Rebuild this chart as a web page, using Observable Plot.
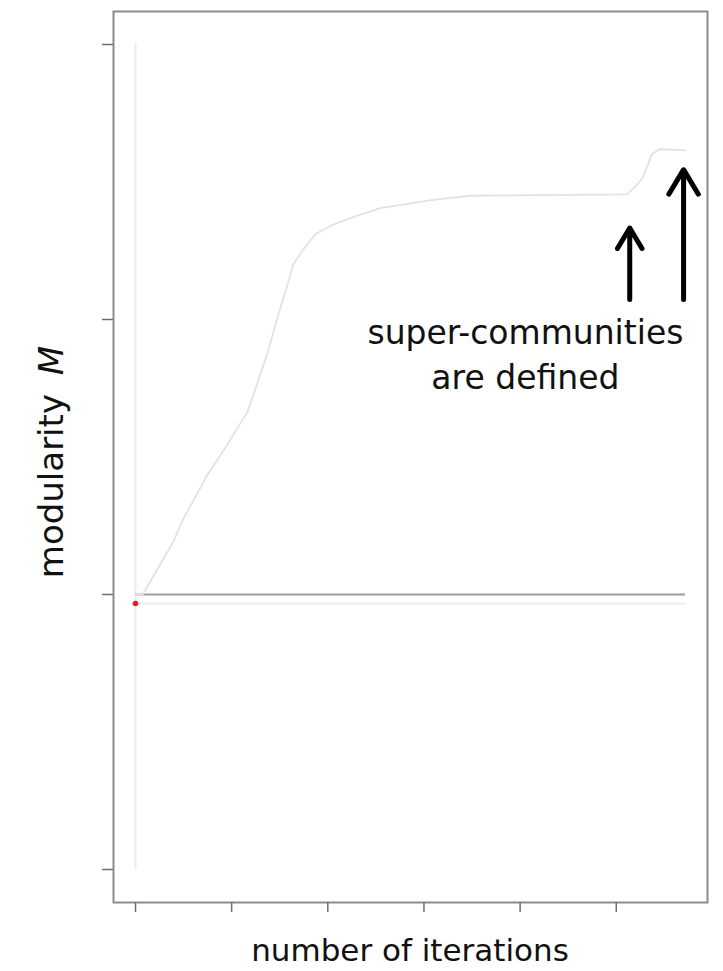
<!DOCTYPE html>
<html>
<head>
<meta charset="utf-8">
<script src="https://cdn.jsdelivr.net/npm/d3@7"></script>
<script src="https://cdn.jsdelivr.net/npm/@observablehq/plot@0.6"></script>
<style>
  body { margin: 0; background: #fff; }
  #chart svg { display: block; }
</style>
</head>
<body>
<div id="chart"></div>
<script>
// Modularity trace over the iterations of the algorithm
const iterations = [0, 1.5, 7.9, 10.0, 15.0, 19.1, 23.3, 24.5, 27.4, 29.5, 31.6, 32.8, 34.9, 37.4, 40.5, 44.0, 50.9, 61.9, 69.6, 102.2, 104.3, 105.5, 107.4, 109.0, 114.4];
const modularity = [0, 0.0, 0.0385, 0.0553, 0.0873, 0.109, 0.133, 0.145, 0.175, 0.201, 0.225, 0.240, 0.251, 0.262, 0.268, 0.273, 0.281, 0.287, 0.290, 0.291, 0.298, 0.303, 0.320, 0.324, 0.323];

// reference levels
const baselineM = 0;
const startM = -0.0065;
const yRangeM = [-0.2, 0.4];

// axis ticks (labels are not printed)
const xTicks = [0, 20, 40, 60, 80, 100];
const yTicks = [-0.2, 0, 0.2, 0.4];

// arrows marking where super-communities are defined
const arrowX = [102.8, 114.0];
const arrowTail = [0.2145, 0.2145];
const arrowTip = [0.2665, 0.3090];
const noteLines = ["super-communities", "are defined"];
const noteX = 81.1;
const noteY = [0.1825, 0.1498];

const xLabel = "number of iterations";
const yLabel = ["modularity", "M"];

const xExtent = [0, d3.max(iterations)];
const padded = (e) => { const p = (e[1] - e[0]) * 0.04; return [e[0] - p, e[1] + p]; };

const curve = iterations.map((x, i) => ({x, y: modularity[i]}));
const arrows = arrowX.map((x, i) => ({x, tail: arrowTail[i], tip: arrowTip[i]}));
const notes = noteLines.map((t, i) => ({t, x: noteX, y: noteY[i]}));

const FONT = "DejaVu Sans";
const W = 723, H = 971;
const mL = 113, mR = 16, mT = 11, mB = 69;

const svg = Plot.plot({
  width: W, height: H,
  marginLeft: mL, marginRight: mR, marginTop: mT, marginBottom: mB,
  style: {fontFamily: FONT, background: "#fff"},
  x: {domain: padded(xExtent)},
  y: {domain: padded(yRangeM)},
  marks: [
    Plot.ruleX([0], {y1: yRangeM[0], y2: yRangeM[1], stroke: "#f1eaec", strokeWidth: 2}),
    Plot.ruleY([startM], {x1: 0, x2: xExtent[1], stroke: "#ececec", strokeWidth: 2}),
    Plot.ruleY([baselineM], {x1: 0, x2: xExtent[1], stroke: "#9d9d9d", strokeWidth: 2}),
    Plot.line(curve, {x: "x", y: "y", stroke: "#e2e2e2", strokeWidth: 1.8}),
    Plot.dot([{x: 0, y: startM}], {x: "x", y: "y", r: 2.8, fill: "#e0202b", stroke: null}),
    Plot.arrow(arrows, {x1: "x", x2: "x", y1: "tail", y2: "tip", stroke: "#000", strokeWidth: 5, headLength: 8.6, headAngle: 62}),
    Plot.text(notes, {x: "x", y: "y", text: "t", fontSize: 33, fill: "#111", textAnchor: "middle", lineAnchor: "bottom"}),
    Plot.frame({stroke: "#8c8c8c", strokeWidth: 2}),
    Plot.axisY({ticks: yTicks, tickSize: 11, tickFormat: () => "", stroke: "#6f6f6f", strokeWidth: 1.5, label: null}),
    Plot.axisX({ticks: xTicks, tickSize: 10, tickFormat: () => "", stroke: "#6f6f6f", strokeWidth: 1.5, label: null})
  ]
});

const s = d3.select(svg);
s.append("text")
  .attr("x", (mL + W - mR) / 2).attr("y", 961)
  .attr("text-anchor", "middle")
  .attr("font-family", FONT).attr("font-size", 31).attr("fill", "#111")
  .text(xLabel);

const yl = s.append("text")
  .attr("transform", `translate(63,462) rotate(-90)`)
  .attr("text-anchor", "middle")
  .attr("font-family", FONT).attr("font-size", 34).attr("fill", "#111");
yl.append("tspan").text(yLabel[0] + " ");
yl.append("tspan").attr("dx", 8).attr("font-style", "italic").text(yLabel[1]);

document.getElementById("chart").appendChild(svg);
</script>
</body>
</html>
